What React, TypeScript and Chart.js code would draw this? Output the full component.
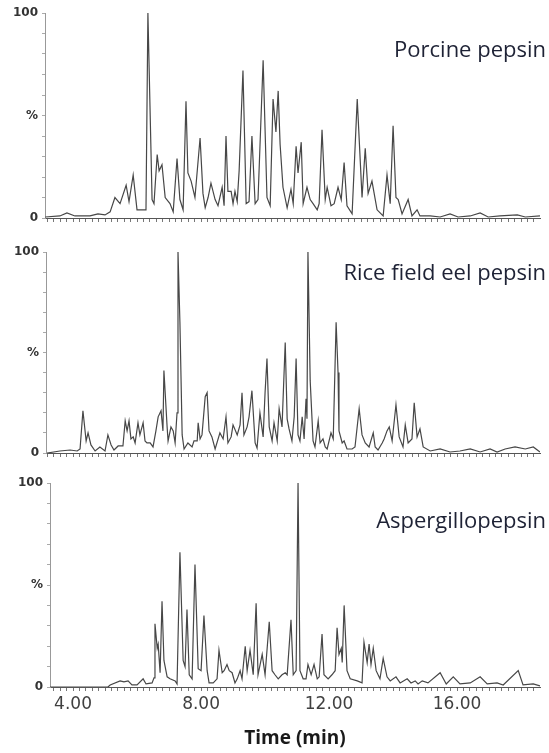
import React, { useEffect, useRef } from 'react';
import { Chart, registerables } from 'chart.js';

Chart.register(...registerables);

// ---------- data (time in min, relative intensity in %) ----------
const porcineTime = [
  3.13, 3.59, 3.81, 4.06, 4.53, 4.78, 5.0, 5.16, 5.31, 5.47,
  5.66, 5.75, 5.88, 6.0, 6.19, 6.28, 6.34, 6.47, 6.53, 6.63,
  6.69, 6.78, 6.88, 7.03, 7.13, 7.25, 7.34, 7.44, 7.53, 7.59,
  7.69, 7.81, 7.97, 8.06, 8.13, 8.22, 8.31, 8.44, 8.53, 8.66,
  8.72, 8.78, 8.84, 8.94, 9.0, 9.06, 9.13, 9.19, 9.31, 9.41,
  9.5, 9.59, 9.69, 9.78, 9.94, 10.06, 10.16, 10.25, 10.34, 10.41,
  10.47, 10.56, 10.69, 10.81, 10.88, 10.97, 11.03, 11.13, 11.19, 11.31,
  11.41, 11.5, 11.63, 11.69, 11.78, 11.88, 11.94, 12.06, 12.16, 12.28,
  12.38, 12.47, 12.56, 12.72, 12.88, 13.03, 13.13, 13.22, 13.34, 13.5,
  13.69, 13.81, 13.91, 14.0, 14.09, 14.16, 14.28, 14.47, 14.59, 14.75,
  14.84, 15.16, 15.47, 15.78, 16.03, 16.41, 16.72, 16.97, 17.34, 17.88,
  18.13, 18.59,
];
const porcineIntensity = [
  0.5, 1, 2.5, 1, 1, 2, 1.5, 3, 10, 7,
  16, 8, 21, 4, 4, 4, 100, 9, 7, 31,
  23, 26, 10, 7, 3, 29, 9, 4, 57, 22,
  18, 10, 39, 12, 5, 10, 17, 9, 6, 15,
  6, 40, 13, 13, 7, 13, 8, 23, 72, 7,
  8, 40, 7, 9, 77, 10, 6, 58, 42, 62,
  36, 15, 5, 14, 7, 35, 22, 37, 7, 15,
  9, 7, 4, 7, 43, 9, 15, 6, 7, 15,
  9, 27, 6, 2, 58, 10, 34, 12, 18, 4,
  1, 21, 7, 45, 10, 9, 2, 9, 1, 4,
  1, 1, 0.5, 2, 0.5, 1, 2.5, 0.5, 1, 1.5,
  0.5, 1,
];

const eelTime = [
  3.19, 3.59, 3.91, 4.13, 4.22, 4.31, 4.41, 4.47, 4.56, 4.69,
  4.84, 5.0, 5.09, 5.19, 5.28, 5.41, 5.56, 5.63, 5.69, 5.75,
  5.81, 5.88, 5.94, 6.03, 6.09, 6.19, 6.25, 6.31, 6.41, 6.5,
  6.59, 6.66, 6.75, 6.81, 6.84, 6.94, 6.97, 7.06, 7.13, 7.19,
  7.25, 7.28, 7.34, 7.41, 7.47, 7.59, 7.72, 7.78, 7.88, 7.91,
  7.97, 8.03, 8.13, 8.19, 8.25, 8.34, 8.44, 8.59, 8.69, 8.78,
  8.84, 8.94, 9.0, 9.13, 9.22, 9.28, 9.34, 9.44, 9.5, 9.59,
  9.69, 9.75, 9.84, 9.94, 10.0, 10.06, 10.13, 10.22, 10.28, 10.38,
  10.44, 10.53, 10.63, 10.69, 10.75, 10.84, 10.91, 10.97, 11.03, 11.09,
  11.16, 11.22, 11.28, 11.31, 11.34, 11.41, 11.5, 11.56, 11.66, 11.72,
  11.81, 11.88, 11.94, 12.06, 12.13, 12.22, 12.28, 12.31, 12.41, 12.47,
  12.56, 12.72, 12.81, 12.94, 13.03, 13.13, 13.25, 13.38, 13.44, 13.53,
  13.66, 13.72, 13.81, 13.88, 13.97, 14.09, 14.19, 14.31, 14.38, 14.47,
  14.59, 14.66, 14.75, 14.84, 14.94, 15.16, 15.47, 15.78, 16.09, 16.41,
  16.72, 17.03, 17.25, 17.5, 17.81, 18.13, 18.38, 18.59,
];
const eelIntensity = [
  0, 1, 1.5, 1, 2, 21, 6, 10, 4, 1,
  3, 1, 9, 4, 1.5, 3.5, 3.5, 16, 11, 16,
  7, 8, 5, 15, 9, 15, 6, 5, 5, 3,
  11, 18, 21, 11, 41, 13, 6, 13, 11, 5,
  20, 100, 65, 9, 2, 5, 3, 6, 6, 15,
  7, 9, 28, 30, 11, 8, 2, 10, 7, 18,
  5, 8, 14, 9, 14, 30, 9, 13, 18, 31,
  5, 2.5, 20, 8, 30, 47, 13, 6, 15, 6,
  22, 13, 55, 17, 12, 6, 18, 47, 9, 6,
  18, 7, 27, 17, 100, 36, 6, 3, 16, 5,
  7, 3, 2, 10, 7, 65, 40, 11, 5, 6,
  2, 2, 3, 22, 9, 5, 3, 10, 3, 1.5,
  5, 7, 11, 13, 6, 24, 8, 3, 14, 5,
  7, 25, 8, 12, 3, 1, 2, 0.5, 1, 2,
  0.5, 2, 0.5, 2, 3, 2, 3, 0.5,
];

const aspTime = [
  3.28, 5.09, 5.16, 5.47, 5.59, 5.72, 5.84, 6.0, 6.19, 6.28,
  6.47, 6.53, 6.56, 6.63, 6.66, 6.72, 6.78, 6.84, 6.94, 7.03,
  7.19, 7.25, 7.34, 7.44, 7.5, 7.56, 7.63, 7.72, 7.81, 7.91,
  8.0, 8.09, 8.19, 8.25, 8.38, 8.5, 8.56, 8.66, 8.72, 8.81,
  8.88, 8.97, 9.06, 9.13, 9.22, 9.28, 9.38, 9.44, 9.53, 9.63,
  9.72, 9.78, 9.91, 10.0, 10.13, 10.22, 10.31, 10.41, 10.53, 10.63,
  10.69, 10.81, 10.88, 10.97, 11.03, 11.09, 11.19, 11.28, 11.34, 11.44,
  11.53, 11.63, 11.69, 11.78, 11.84, 11.97, 12.09, 12.19, 12.25, 12.31,
  12.38, 12.41, 12.47, 12.56, 12.66, 12.88, 13.03, 13.09, 13.19, 13.25,
  13.31, 13.38, 13.47, 13.59, 13.69, 13.81, 13.91, 14.09, 14.22, 14.44,
  14.56, 14.69, 14.78, 14.91, 15.09, 15.47, 15.66, 15.88, 16.09, 16.41,
  16.72, 16.94, 17.25, 17.44, 17.91, 18.06, 18.38, 18.59,
];
const aspIntensity = [
  0, 0, 1, 3, 2.5, 3, 1, 1, 4, 1.5,
  2, 4.5, 31, 19, 21, 7, 42, 13, 5, 4,
  3, 1.5, 66, 13, 10, 38, 6, 4, 60, 9,
  8, 35, 8, 2, 2, 4, 18, 7, 8, 11,
  8, 7, 2, 4, 8, 4, 20, 8, 18, 6,
  41, 6, 16, 6, 32, 8, 6, 4, 6, 7,
  6, 33, 6, 8, 100, 8, 4, 4, 11, 6,
  11, 4, 5, 26, 6, 4, 6, 8, 29, 16,
  19, 12, 40, 8, 4, 3, 2, 22, 12, 21,
  11, 19, 8, 4, 14, 5, 3, 5, 2, 4,
  2, 3, 1.5, 3, 2, 7, 1.5, 5, 1.5, 2,
  5, 1.5, 2, 1, 8, 1, 1.5, 0.5,
];

const xMax = 18.59;
const xTickLabels = [4, 8, 12, 16];
const yTickLabels: Record<number, string> = { 0: '0', 50: '%', 100: '100' };

type PanelProps = {
  times: number[];
  values: number[];
  top: number;
  height: number;
  areaTop: number;
  axisLeft: number;
  xHeight: number;
  xMin: number;
  showLabels: boolean;
  title: string;
  titleTop: number;
};

function Panel(p: PanelProps) {
  const ref = useRef<HTMLCanvasElement | null>(null);
  useEffect(() => {
    if (!ref.current) return;
    const chart = new Chart(ref.current, {
      type: 'line',
      data: {
        datasets: [
          {
            data: p.times.map((t, i) => ({ x: t, y: p.values[i] })),
            borderColor: '#474747',
            borderWidth: 1.2,
            pointRadius: 0,
            tension: 0,
            fill: false,
          },
        ],
      },
      options: {
        animation: false,
        responsive: false,
        devicePixelRatio: 1,
        layout: { padding: { top: p.areaTop, right: 9, bottom: 0, left: 0 } },
        plugins: { legend: { display: false }, tooltip: { enabled: false } },
        scales: {
          x: {
            type: 'linear',
            position: 'bottom',
            min: p.xMin,
            max: xMax,
            border: { display: true, color: '#555', width: 1 },
            grid: { drawOnChartArea: false, drawTicks: true, tickLength: 4, color: '#777' },
            ticks: {
              stepSize: 0.2,
              autoSkip: false,
              includeBounds: false,
              maxRotation: 0,
              minRotation: 0,
              padding: 3,
              color: '#404040',
              font: { family: 'DejaVu Sans', size: 17 },
              callback: (v: any) => {
                const n = Number(v);
                if (!p.showLabels) return '';
                const r = Math.round(n);
                return Math.abs(n - r) < 1e-6 && xTickLabels.includes(r) ? r.toFixed(2) : '';
              },
            },
            title: p.showLabels
              ? {
                  display: true,
                  text: 'Time (min)',
                  color: '#1a1a1a',
                  font: { family: 'Open Sans', size: 19, weight: 'bold' },
                  padding: { top: 0, bottom: 3 },
                }
              : { display: false },
            afterFit: (s: any) => {
              s.height = p.xHeight;
            },
          } as any,
          y: {
            min: 0,
            max: 100,
            border: { display: true, color: '#999', width: 1 },
            grid: { drawOnChartArea: false, drawTicks: true, tickLength: 3, color: '#aaa' },
            ticks: {
              stepSize: 10,
              autoSkip: false,
              padding: 4,
              color: '#333',
              font: { family: 'DejaVu Sans', size: 12, weight: 'bold' },
              callback: (v: any) => yTickLabels[Math.round(Number(v))] ?? '',
            },
            afterFit: (s: any) => {
              s.width = p.axisLeft;
            },
          } as any,
        },
      },
    });
    return () => chart.destroy();
  }, []);
  return (
    <>
      <canvas
        ref={ref}
        width={549}
        height={p.height}
        style={{ position: 'absolute', left: 0, top: p.top, display: 'block' }}
      />
      <div
        style={{
          position: 'absolute',
          right: 3,
          top: p.titleTop,
          fontFamily: "'Open Sans', sans-serif",
          fontSize: 22,
          lineHeight: 1,
          color: '#1e2235',
          whiteSpace: 'nowrap',
        }}
      >
        {p.title}
      </div>
    </>
  );
}

export default function App() {
  return (
    <div
      style={{
        position: 'absolute',
        left: 0,
        top: 0,
        width: 549,
        height: 753,
        background: '#fff',
        overflow: 'hidden',
      }}
    >
      <Panel times={porcineTime} values={porcineIntensity} top={0} height={232} areaTop={13}
        axisLeft={45} xHeight={14} xMin={3.125} showLabels={false} title="Porcine pepsin" titleTop={37} />
      <Panel times={eelTime} values={eelIntensity} top={232} height={235} areaTop={20}
        axisLeft={46} xHeight={14} xMin={3.156} showLabels={false} title="Rice field eel pepsin" titleTop={260} />
      <Panel times={aspTime} values={aspIntensity} top={467} height={286} areaTop={16}
        axisLeft={50} xHeight={66} xMin={3.28} showLabels={true} title="Aspergillopepsin" titleTop={508} />
    </div>
  );
}
